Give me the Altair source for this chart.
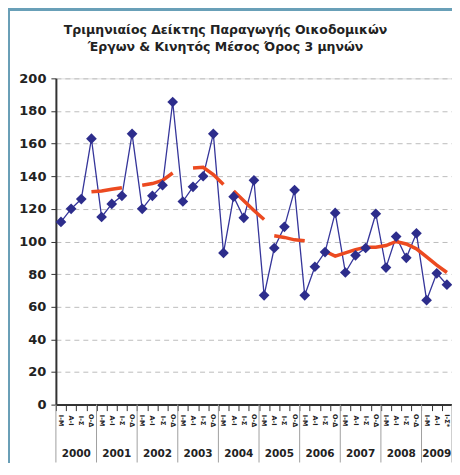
import altair as alt
import pandas as pd

# ---------------- data ----------------
years = ["2000", "2001", "2002", "2003", "2004", "2005", "2006", "2007", "2008", "2009"]
quarters_per_year = [4, 4, 4, 4, 4, 4, 4, 4, 4, 3]
quarter_labels = ["Ι-Μ", "Α-Ι", "Ι-Σ", "Ο-Δ"]
last_label_suffix = "*"

index_values = [
    112, 120, 126, 163,
    115, 123, 128, 166,
    120, 128, 134.5, 185.5,
    124.5, 133.5, 140, 166,
    93, 127.5, 114.5, 137.5,
    67, 96, 109, 131.5,
    67, 84.5, 93.5, 117.5,
    81, 91.5, 96, 117,
    84, 103, 90, 105,
    64, 80.5, 73.5,
]

moving_avg = [
    None, None, None, 130.5,
    131, 132, 133, None,
    134.5, 135.5, 137.5, 142,
    None, 145, 145.5, 141,
    135, 131, 125, 119,
    113.5, 103.5, 102.5, 101,
    100.5, None, 94, 91,
    93, 95, 96.5, 96.5,
    97.5, 100, 98.5, 95.5,
    90.5, 85.5, 81,
]
moving_avg_segment = [
    0, 0, 0, 1,
    1, 1, 1, 0,
    2, 2, 2, 2,
    0, 3, 3, 3,
    3, 4, 4, 4,
    4, 5, 5, 5,
    5, 0, 6, 6,
    6, 6, 6, 6,
    6, 6, 6, 6,
    6, 6, 6,
]

title_lines = ["Τριμηνιαίος Δείκτης Παραγωγής Οικοδομικών",
               "Έργων & Κινητός Μέσος Όρος 3 μηνών"]

# ---------------- tables ----------------
rows = []
i = 0
year_rows = []
for y, n in zip(years, quarters_per_year):
    start = i
    for q in range(n):
        rows.append({"idx": i, "year": y, "q": quarter_labels[q], "value": index_values[i],
                     "ma": moving_avg[i], "seg": moving_avg_segment[i]})
        i += 1
    year_rows.append({"year": y, "center": start + (n - 1) / 2, "start": start - 0.5})
rows[-1]["q"] = rows[-1]["q"] + last_label_suffix
df = pd.DataFrame(rows)
ma_df = df[df["ma"].notna()].copy()
year_df = pd.DataFrame(year_rows)
bound_df = pd.DataFrame({"b": list(year_df["start"]) + [len(df) - 0.5]})
title_df = pd.DataFrame({"line": title_lines, "k": list(range(len(title_lines)))})

W, H = 397, 327
FONT = "DejaVu Sans"

xscale = alt.Scale(domain=[-0.5, len(df) - 0.5], nice=False, zero=False)
yscale = alt.Scale(domain=[0, 200], nice=False)

x_axis = alt.Axis(values=[k - 0.5 for k in range(len(df) + 1)], labels=False,
                  title=None, tickSize=6, tickColor="#333333", grid=False,
                  domainColor="#333333", domainWidth=2)
y_axis = alt.Axis(values=list(range(0, 201, 20)), title=None, tickSize=5,
                  tickColor="#333333", labelPadding=5, labelFont=FONT,
                  labelFontWeight="bold", labelFontSize=13, labelColor="#222222",
                  labelOverlap=False, domainColor="#333333", domainWidth=2,
                  grid=True, gridColor="#bdbdbd", gridDash=[5, 4], gridWidth=1)

base = alt.Chart(df)

blue_line = base.mark_line(color="#35359a", strokeWidth=1.3).encode(
    x=alt.X("idx:Q", scale=xscale, axis=x_axis),
    y=alt.Y("value:Q", scale=yscale, axis=y_axis),
)

red_line = alt.Chart(ma_df).mark_line(color="#ec4a20", strokeWidth=3.5).encode(
    x=alt.X("idx:Q", scale=xscale, axis=x_axis),
    y=alt.Y("ma:Q", scale=yscale, axis=y_axis),
    detail="seg:N",
)

points = base.mark_point(shape="diamond", filled=True, size=115, color="#2d2d8c",
                         opacity=1).encode(
    x=alt.X("idx:Q", scale=xscale, axis=x_axis),
    y=alt.Y("value:Q", scale=yscale, axis=y_axis),
)

q_text = base.mark_text(angle=90, font=FONT, fontWeight="bold", fontSize=6.5,
                        color="#222222", align="center", baseline="middle").encode(
    x=alt.X("idx:Q", scale=xscale, axis=x_axis),
    y=alt.value(H + 16),
    text="q:N",
)

year_text = alt.Chart(year_df).mark_text(font=FONT, fontWeight="bold", fontSize=10.5,
                                         color="#222222", baseline="middle").encode(
    x=alt.X("center:Q", scale=xscale, axis=x_axis),
    y=alt.value(H + 49),
    text="year:N",
)

seps = alt.Chart(bound_df).mark_rule(color="#a0a0a0", strokeWidth=1).encode(
    x=alt.X("b:Q", scale=xscale, axis=x_axis),
    y=alt.value(H),
    y2=alt.value(H + 58),
)

title_marks = alt.Chart(title_df).mark_text(font=FONT, fontWeight="bold", fontSize=12.5,
                                            color="#222222", baseline="middle",
                                            align="center")
title1 = title_marks.transform_filter("datum.k == 0").encode(
    x=alt.value(170), y=alt.value(-48), text="line:N")
title2 = title_marks.transform_filter("datum.k == 1").encode(
    x=alt.value(170), y=alt.value(-31), text="line:N")

frame_left = alt.Chart(df).mark_rule(color="#6a9fb7", strokeWidth=1.5).encode(
    x=alt.value(-47.5), y=alt.value(-69), y2=alt.value(H + 60))
frame_top = alt.Chart(df).mark_rule(color="#6a9fb7", strokeWidth=1.5).encode(
    x=alt.value(-48), x2=alt.value(W + 10), y=alt.value(-69))

chart = alt.layer(
    seps, blue_line, red_line, points, q_text, year_text, title1, title2,
    frame_left, frame_top
).properties(
    width=W, height=H,
    autosize=alt.AutoSizeParams(type="none"),
    padding={"left": 48, "top": 70, "right": 0, "bottom": 58},
).configure_view(
    stroke="#4a4a4a", strokeWidth=2
).configure(background="white")

chart.save("out.html", embed_options={"renderer": "svg", "actions": False})
